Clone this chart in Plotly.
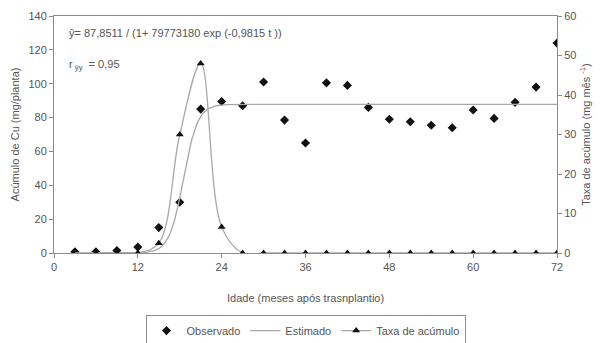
import numpy as np
import plotly.graph_objects as go

# Observed Cu accumulation (mg/planta) by age (months after transplanting)
idade = [3, 6, 9, 12, 15, 18, 21, 24, 27, 30, 33, 36, 39, 42, 45, 48, 51, 54, 57, 60, 63, 66, 69, 72]
observado = [0.7, 0.7, 1.5, 3.5, 15, 30, 85, 89.5, 87, 101, 78.5, 65, 100.5, 99, 86, 79, 77.5, 75.5, 74, 84.5, 79.5, 89, 98, 124]

# Accumulation rate (mg mês-1)
idade_taxa = [6, 9, 12, 15, 18, 21, 24, 27, 30, 33, 36, 39, 42, 45, 48, 51, 54, 57, 60, 63, 66, 69, 72]
taxa = [0, 0, 0, 2.5, 30, 48, 6.6, 0, 0, 0, 0, 0, 0, 0, 0, 0, 0, 0, 0, 0, 0, 0, 0]

# Fitted logistic model parameters
a, b, k = 87.8511, 79773180, 0.9815
t = np.linspace(3, 72, 400)
estimado = a / (1 + b * np.exp(-k * t))

x_ticks = [0, 12, 24, 36, 48, 60, 72]
y_ticks = [0, 20, 40, 60, 80, 100, 120, 140]
y2_ticks = [0, 10, 20, 30, 40, 50, 60]

txt = "#555555"
line_gray = "#a8a8a8"
axis_gray = "#8c8c8c"
font = "Liberation Sans, Arial, sans-serif"

fig = go.Figure()
fig.add_trace(go.Scatter(
    x=idade, y=observado, mode="markers", name="Observado",
    marker=dict(symbol="diamond", size=7, color="#111111"),
))
fig.add_trace(go.Scatter(
    x=t, y=estimado, mode="lines", name="Estimado",
    line=dict(color=line_gray, width=1.3),
))
fig.add_trace(go.Scatter(
    x=idade_taxa, y=taxa, mode="lines+markers", name="Taxa de acúmulo",
    line=dict(color=line_gray, width=1.3, shape="spline", smoothing=1),
    marker=dict(symbol="triangle-up", size=7, color="#111111"),
    yaxis="y2",
))

fig.update_layout(
    width=600, height=343,
    margin=dict(l=54, r=43, t=16, b=90, autoexpand=False),
    paper_bgcolor="white", plot_bgcolor="white",
    font=dict(family=font, size=11, color=txt),
    showlegend=True,
    legend=dict(
        orientation="h", x=0.5, xanchor="center", y=-0.262, yanchor="top",
        bordercolor=axis_gray, borderwidth=1, itemwidth=30,
        font=dict(size=11, color=txt), tracegroupgap=0,
    ),
    xaxis=dict(
        range=[0, 72], tickvals=x_ticks, showgrid=False, zeroline=False,
        showline=True, linecolor=axis_gray, linewidth=1, mirror=True,
        ticks="outside", ticklen=4, tickcolor=axis_gray,
    ),
    yaxis=dict(
        range=[0, 140], tickvals=y_ticks, showgrid=False, zeroline=False,
        showline=True, linecolor=axis_gray, linewidth=1,
        ticks="outside", ticklen=4, tickcolor=axis_gray,
        title=dict(text="Acúmulo de Cu (mg/planta)", font=dict(size=11, color=txt), standoff=6),
    ),
    yaxis2=dict(
        range=[0, 60], tickvals=y2_ticks, overlaying="y", side="right",
        showgrid=False, zeroline=False,
        showline=True, linecolor=axis_gray, linewidth=1,
        ticks="outside", ticklen=4, tickcolor=axis_gray,
        title=dict(text="Taxa de acúmulo (mg mês <sup>-1</sup>)", font=dict(size=11, color=txt), standoff=6),
    ),
    annotations=[
        dict(text="Idade (meses após trasnplantio)", xref="paper", yref="paper",
             x=0.5, y=-0.19, xanchor="center", yanchor="middle", showarrow=False,
             font=dict(size=11, color=txt)),
        dict(text="ŷ= 87,8511 / (1+ 79773180 exp (-0,9815 t ))", xref="x", yref="y",
             x=1.8, y=130, xanchor="left", yanchor="middle", showarrow=False,
             font=dict(size=11, color=txt)),
        dict(text="r<sub> ŷy</sub>  = 0,95", xref="x", yref="y",
             x=1.8, y=111, xanchor="left", yanchor="middle", showarrow=False,
             font=dict(size=11, color=txt)),
    ],
)

fig.write_html("out.html")
